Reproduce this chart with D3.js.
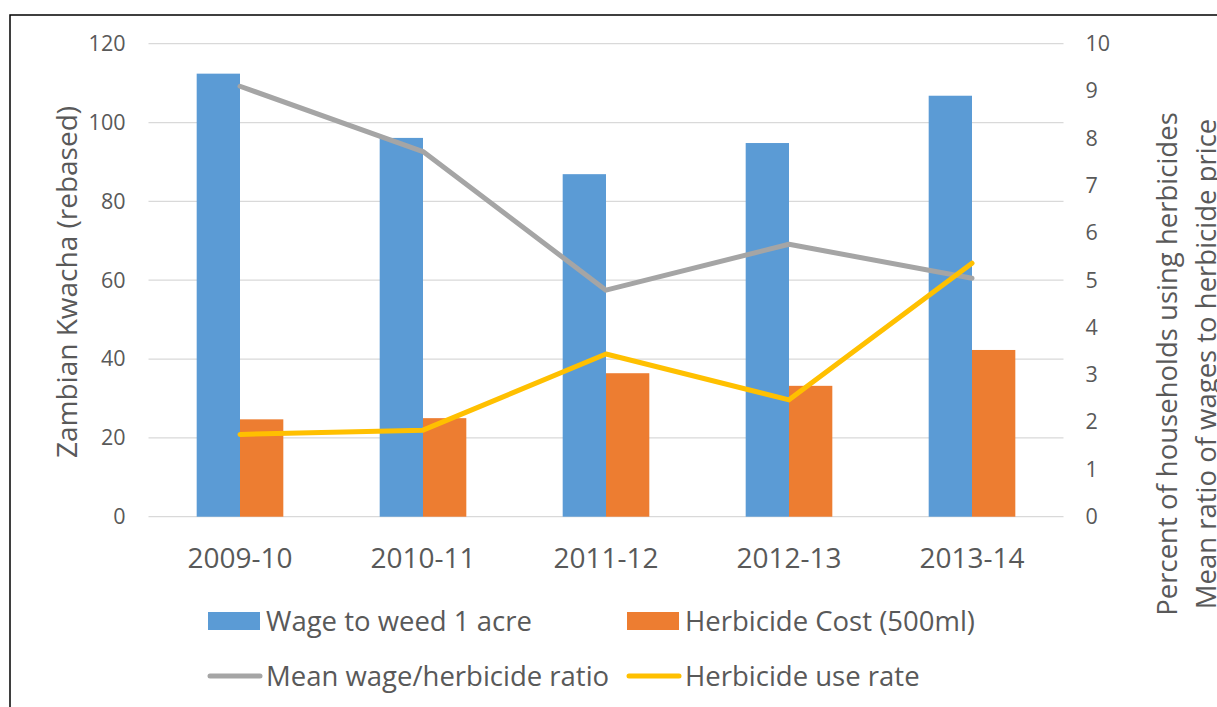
<!DOCTYPE html>
<html>
<head>
<meta charset="utf-8">
<script src="https://cdn.jsdelivr.net/npm/d3@7"></script>
<style>
  body { margin: 0; background: #fff; }
  text { font-family: "Open Sans", sans-serif; fill: #595959; }
</style>
</head>
<body>
<div class="chart"></div>
<script>
// data
const categories = ['2009-10', '2010-11', '2011-12', '2012-13', '2013-14'];
const wage = [112.4, 96.1, 86.9, 94.8, 106.8];
const herbicideCost = [24.7, 25.0, 36.4, 33.2, 42.3];
const ratio = [9.1, 7.72, 4.79, 5.76, 5.04];
const useRate = [1.74, 1.83, 3.44, 2.47, 5.36];
const leftTicks = [0, 20, 40, 60, 80, 100, 120];
const rightTicks = [0, 1, 2, 3, 4, 5, 6, 7, 8, 9, 10];

const W = 1217, H = 707;
const margin = { top: 43.7, right: 153.5, bottom: 190.3, left: 148.5 };
const width = W - margin.left - margin.right;
const height = H - margin.top - margin.bottom;

const svg = d3.select('.chart')
  .append('svg')
    .attr('width', W)
    .attr('height', H);

// outer frame (runs off right and bottom edge)
svg.append('rect')
  .attr('x', 10).attr('y', 15)
  .attr('width', W + 20).attr('height', H + 20)
  .attr('fill', 'none')
  .attr('stroke', '#000')
  .attr('stroke-width', 1.5);

const g = svg.append('g')
  .attr('transform', `translate(${margin.left}, ${margin.top})`);

const xScale = d3.scaleBand().domain(categories).range([0, width]);
const barW = xScale.bandwidth() * 0.2367;
const xInner = d3.scaleBand().domain(['wage', 'cost']).range([-barW, barW]);
const yLeft = d3.scaleLinear().domain([0, 120]).range([height, 0]);
const yRight = d3.scaleLinear().domain([0, 10]).range([height, 0]);

// gridlines
g.append('g')
  .selectAll('line')
  .data(leftTicks)
  .enter()
  .append('line')
    .attr('x1', 0).attr('x2', width)
    .attr('y1', d => yLeft(d)).attr('y2', d => yLeft(d))
    .attr('stroke', '#d9d9d9')
    .attr('stroke-width', 1.3);

// axes
const leftAxis = g.append('g')
  .call(d3.axisLeft(yLeft).tickValues(leftTicks).tickSize(0).tickPadding(23));
const rightAxis = g.append('g')
  .attr('transform', `translate(${width}, 0)`)
  .call(d3.axisRight(yRight).tickValues(rightTicks).tickSize(0).tickPadding(22));
const bottomAxis = g.append('g')
  .attr('transform', `translate(0, ${height})`)
  .call(d3.axisBottom(xScale).tickSize(0).tickPadding(31));

[leftAxis, rightAxis].forEach(a => {
  a.select('.domain').remove();
  a.selectAll('text').style('font-size', '21.5px').attr('fill', '#595959');
});
bottomAxis.select('.domain').remove();
bottomAxis.selectAll('text').style('font-size', '28px').attr('fill', '#595959');
leftAxis.attr('font-family', null);
rightAxis.attr('font-family', null);
bottomAxis.attr('font-family', null);

// bars
const seriesBars = [
  { key: 'wage', values: wage, color: '#5b9bd5' },
  { key: 'cost', values: herbicideCost, color: '#ed7d31' }
];
seriesBars.forEach(s => {
  g.append('g')
    .selectAll('rect')
    .data(s.values)
    .enter()
    .append('rect')
      .attr('x', (d, i) => xScale(categories[i]) + xScale.bandwidth() / 2 + xInner(s.key))
      .attr('y', d => yLeft(d))
      .attr('width', xInner.bandwidth())
      .attr('height', d => height - yLeft(d))
      .attr('fill', s.color);
});

// lines on right axis
const line = d3.line()
  .x((d, i) => xScale(categories[i]) + xScale.bandwidth() / 2)
  .y(d => yRight(d));
[{ values: ratio, color: '#a5a5a5' }, { values: useRate, color: '#ffc000' }].forEach(s => {
  g.append('path')
    .datum(s.values)
    .attr('d', line)
    .attr('fill', 'none')
    .attr('stroke', s.color)
    .attr('stroke-width', 5)
    .attr('stroke-linejoin', 'round')
    .attr('stroke-linecap', 'round');
});

// axis titles
svg.append('text')
  .attr('transform', 'translate(77, 282) rotate(-90)')
  .attr('text-anchor', 'middle')
  .style('font-size', '28px')
  .text('Zambian Kwacha (rebased)');
svg.append('text')
  .attr('transform', 'translate(1177, 364) rotate(-90)')
  .attr('text-anchor', 'middle')
  .style('font-size', '27.5px')
  .text('Percent of households using herbicides');
svg.append('text')
  .attr('transform', 'translate(1216, 364) rotate(-90)')
  .attr('text-anchor', 'middle')
  .style('font-size', '27.5px')
  .text('Mean ratio of wages to herbicide price');

// legend
const legendItems = [
  { label: 'Wage to weed 1 acre', color: '#5b9bd5', type: 'rect', x: 208, y: 621 },
  { label: 'Herbicide Cost (500ml)', color: '#ed7d31', type: 'rect', x: 627, y: 621 },
  { label: 'Mean wage/herbicide ratio', color: '#a5a5a5', type: 'line', x: 208, y: 676 },
  { label: 'Herbicide use rate', color: '#ffc000', type: 'line', x: 627, y: 676 }
];
const legend = svg.append('g');
legendItems.forEach(item => {
  if (item.type === 'rect') {
    legend.append('rect')
      .attr('x', item.x).attr('y', item.y - 9)
      .attr('width', 52).attr('height', 18)
      .attr('fill', item.color);
  } else {
    legend.append('line')
      .attr('x1', item.x + 2).attr('x2', item.x + 52)
      .attr('y1', item.y).attr('y2', item.y)
      .attr('stroke', item.color)
      .attr('stroke-width', 5)
      .attr('stroke-linecap', 'round');
  }
  legend.append('text')
    .attr('x', item.x + 58)
    .attr('y', item.y + 9.5)
    .style('font-size', '27.5px')
    .text(item.label);
});
</script>
</body>
</html>
